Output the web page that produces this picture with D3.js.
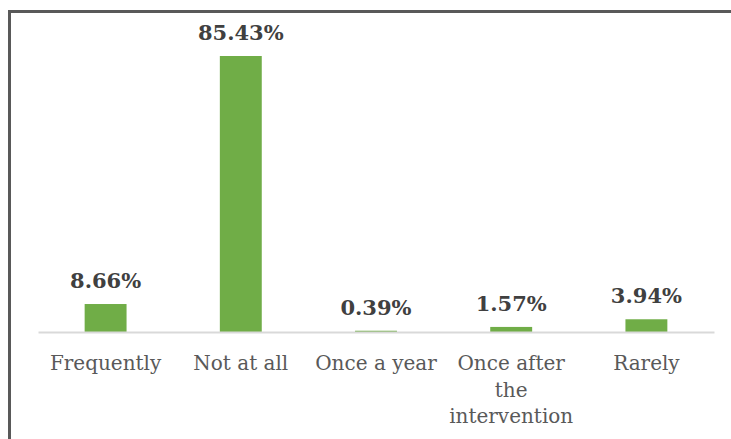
<!DOCTYPE html>
<html><head><meta charset="utf-8">
<script src="https://cdn.jsdelivr.net/npm/d3@7"></script>
<style>html,body{margin:0;padding:0;background:#fff;}svg{display:block;}</style>
</head><body>
<svg id="chart" width="731" height="439"></svg>
<script>
const categories = ["Frequently", "Not at all", "Once a year", "Once after the intervention", "Rarely"];
const values = [8.66, 85.43, 0.39, 1.57, 3.94];
const valueLabels = ["8.66%", "85.43%", "0.39%", "1.57%", "3.94%"];

const svg = d3.select("#chart");
const font = "'DejaVu Serif', Georgia, serif";

// frame
svg.append("path").attr("d", "M9.5,460 V11.5 H760")
  .attr("fill", "none").attr("stroke", "#595959").attr("stroke-width", 3);

const x = d3.scaleBand().domain(categories).range([38, 714]).paddingInner(0.69).paddingOuter(0.345);
const y = d3.scaleLinear().domain([0, 85.43]).range([332, 56]);

svg.selectAll("rect.bar").data(values).join("rect")
  .attr("class", "bar")
  .attr("x", (d, i) => x(categories[i]))
  .attr("width", x.bandwidth())
  .attr("y", d => y(d))
  .attr("height", d => y(0) - y(d))
  .attr("fill", "#70AD47");

// axis
const axis = svg.append("g").attr("transform", `translate(0,${y(0)})`)
  .call(d3.axisBottom(x).tickSize(0).tickSizeOuter(0).tickFormat(""));
axis.select(".domain").attr("stroke", "#d9d9d9").attr("stroke-width", 2);

// value labels
svg.selectAll("text.val").data(values).join("text")
  .attr("class", "val")
  .attr("x", (d, i) => x(categories[i]) + x.bandwidth() / 2)
  .attr("y", d => y(d) - 16)
  .attr("text-anchor", "middle")
  .attr("font-family", font).attr("font-weight", "bold").attr("font-size", 21)
  .attr("fill", "#404040")
  .text((d, i) => valueLabels[i]);

// category labels with wrapping
const maxW = x.step() - 4;
categories.forEach(c => {
  const t = svg.append("text")
    .attr("x", x(c) + x.bandwidth() / 2).attr("y", 370)
    .attr("text-anchor", "middle")
    .attr("font-family", font).attr("font-size", 20)
    .attr("fill", "#595959");
  const words = c.split(" ");
  let line = [];
  let ts = t.append("tspan").attr("x", x(c) + x.bandwidth() / 2).attr("dy", 0);
  words.forEach(w => {
    line.push(w);
    ts.text(line.join(" "));
    if (ts.node().getComputedTextLength() > maxW && line.length > 1) {
      line.pop(); ts.text(line.join(" "));
      line = [w];
      ts = t.append("tspan").attr("x", x(c) + x.bandwidth() / 2).attr("dy", 26.5).text(w);
    }
  });
});
</script>
</body></html>
